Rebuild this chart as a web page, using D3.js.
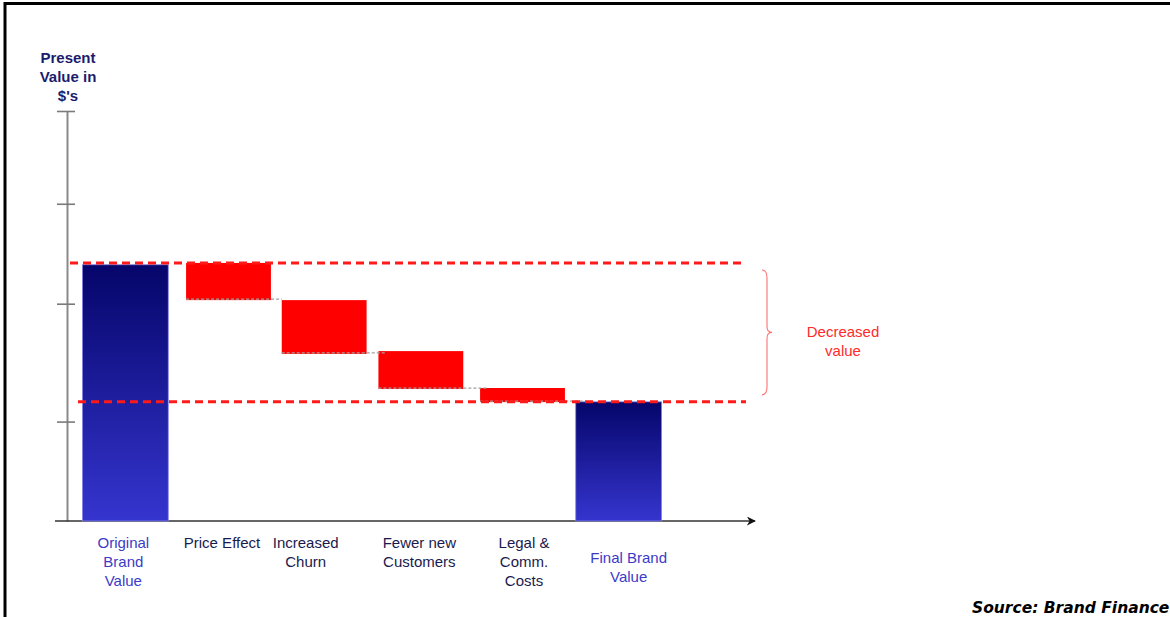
<!DOCTYPE html>
<html>
<head>
<meta charset="utf-8">
<script src="https://cdn.jsdelivr.net/npm/d3@7"></script>
<style>
  body { margin: 0; background: #fff; }
  svg { display: block; font-family: Arial, "Liberation Sans", sans-serif; }
</style>
</head>
<body>
<div class="chart"></div>
<script>
// Data (value units: original brand value = 100)
const categories = ["Original Brand Value", "Price Effect", "Increased Churn",
                    "Fewer new Customers", "Legal & Comm. Costs", "Final Brand Value"];
const labelLines = [["Original", "Brand", "Value"], ["Price Effect"], ["Increased", "Churn"],
                    ["Fewer new", "Customers"], ["Legal &", "Comm.", "Costs"], ["Final Brand", "Value"]];
const originalValue = 100;
const finalValue = 46.5;
const stepFrom = [100.7, 86.2, 66.3, 51.9];   // top of each decrease
const stepTo = [86.2, 65.2, 51.5, 46.4];      // bottom of each decrease
const tickValues = [38.8, 84.8, 123.8, 160];
const yTitle = ["Present", "Value in", "$'s"];
const braceText = ["Decreased", "value"];
const sourceText = "Source: Brand Finance";

const width = 1170, height = 617;

const svg = d3.select(".chart").append("svg")
    .attr("width", width)
    .attr("height", height);

// frame
svg.append("path")
    .attr("d", "M5,617 V3.5 H1170")
    .attr("fill", "none")
    .attr("stroke", "#000")
    .attr("stroke-width", 3);

// gradient for the blue bars
const defs = svg.append("defs");
const grad = defs.append("linearGradient")
    .attr("id", "blueGrad")
    .attr("x1", 0).attr("y1", 0).attr("x2", 0).attr("y2", 1);
grad.append("stop").attr("offset", "0%").attr("stop-color", "#05056a");
grad.append("stop").attr("offset", "100%").attr("stop-color", "#3535cf");

defs.append("marker")
    .attr("id", "arrow")
    .attr("viewBox", "0 0 10 10")
    .attr("refX", 9).attr("refY", 5)
    .attr("markerWidth", 9).attr("markerHeight", 9)
    .attr("markerUnits", "userSpaceOnUse")
    .attr("orient", "auto")
    .append("path")
    .attr("d", "M0,0 L10,5 L0,10 L3,5 Z")
    .attr("fill", "#111");

// scales
const xScale = d3.scaleBand()
    .domain(categories)
    .range([76, 668])
    .paddingInner(0.13)
    .paddingOuter(0.065);

// small nudges so the bars sit where the drawing put them
const barShift = [0, 5, 2, 0, 3, 0];
const bx = (cat) => xScale(cat) + barShift[categories.indexOf(cat)];

const yScale = d3.scaleLinear()
    .domain([0, 160])
    .range([521, 111]);

// y axis
const yAxis = d3.axisLeft(yScale)
    .tickValues(tickValues)
    .tickSize(0)
    .tickFormat("");

const yAxisG = svg.append("g")
    .attr("transform", "translate(67,0)")
    .call(yAxis);
yAxisG.select(".domain")
    .attr("stroke", "#8a8a8a")
    .attr("stroke-width", 2);
yAxisG.selectAll(".tick").append("line")
    .attr("x1", -10).attr("x2", 8)
    .attr("stroke", "#7a7a7a")
    .attr("stroke-width", 1.6);

// x axis with arrow
svg.append("line")
    .attr("x1", 55).attr("x2", 755)
    .attr("y1", yScale(0)).attr("y2", yScale(0))
    .attr("stroke", "#333")
    .attr("stroke-width", 1.5)
    .attr("marker-end", "url(#arrow)");

// original and final bars
const totals = [
    { cat: categories[0], value: originalValue },
    { cat: categories[5], value: finalValue }
];
svg.selectAll(".total")
    .data(totals)
    .join("rect")
    .attr("class", "total")
    .attr("x", d => bx(d.cat))
    .attr("width", xScale.bandwidth())
    .attr("y", d => yScale(d.value))
    .attr("height", d => yScale(0) - yScale(d.value))
    .attr("fill", "url(#blueGrad)")
    .attr("stroke", "#8585e6")
    .attr("stroke-width", 0.8);

// decrease steps
const steps = stepFrom.map((f, i) => ({ cat: categories[i + 1], from: f, to: stepTo[i] }));
svg.selectAll(".step")
    .data(steps)
    .join("rect")
    .attr("class", "step")
    .attr("x", d => bx(d.cat))
    .attr("width", xScale.bandwidth() - 1)
    .attr("y", d => yScale(d.from))
    .attr("height", d => yScale(d.to) - yScale(d.from))
    .attr("fill", "#ff0000");

// grey connectors along bottom of each step to the next bar
svg.selectAll(".conn")
    .data(steps)
    .join("line")
    .attr("class", "conn")
    .attr("x1", d => bx(d.cat))
    .attr("x2", (d, i) => {
        const next = categories[i + 2];
        return i === 0 ? bx(next) : bx(next) + 7;
    })
    .attr("y1", d => yScale(d.to) - 1)
    .attr("y2", d => yScale(d.to) - 1)
    .attr("stroke", "#a0a0a0")
    .attr("stroke-width", 1.2)
    .attr("stroke-dasharray", "3,2");

// red dashed reference lines
svg.append("line")
    .attr("x1", 70).attr("x2", 746)
    .attr("y1", yScale(stepFrom[0])).attr("y2", yScale(stepFrom[0]))
    .attr("stroke", "#ff1a1a").attr("stroke-width", 3)
    .attr("stroke-dasharray", "8,5");
svg.append("line")
    .attr("x1", 78).attr("x2", 746)
    .attr("y1", yScale(finalValue)).attr("y2", yScale(finalValue))
    .attr("stroke", "#ff1a1a").attr("stroke-width", 3)
    .attr("stroke-dasharray", "8,5");

// brace
const bTop = yScale(stepFrom[0]) + 7, bBot = yScale(finalValue) - 7;
const bMid = (bTop + bBot) / 2;
const braceX = 762;
svg.append("path")
    .attr("d", `M${braceX},${bTop} Q${braceX + 5},${bTop} ${braceX + 5},${bTop + 8}
                L${braceX + 5},${bMid - 6} Q${braceX + 5},${bMid} ${braceX + 10},${bMid}
                Q${braceX + 5},${bMid} ${braceX + 5},${bMid + 6}
                L${braceX + 5},${bBot - 8} Q${braceX + 5},${bBot} ${braceX},${bBot}`)
    .attr("fill", "none")
    .attr("stroke", "#ff7070")
    .attr("stroke-width", 1.1);

svg.append("text")
    .attr("x", 843).attr("y", bMid + 5)
    .attr("text-anchor", "middle")
    .attr("fill", "#ff2a2a")
    .attr("font-size", 15)
    .selectAll("tspan")
    .data(braceText)
    .join("tspan")
    .attr("x", 843)
    .attr("dy", (d, i) => i === 0 ? 0 : 19)
    .text(d => d);

// y axis title
svg.append("text")
    .attr("text-anchor", "middle")
    .attr("fill", "#1c1c6e")
    .attr("font-size", 15)
    .attr("font-weight", "bold")
    .selectAll("tspan")
    .data(yTitle)
    .join("tspan")
    .attr("x", 68)
    .attr("y", (d, i) => 63 + i * 19)
    .text(d => d);

// category labels
const labelShift = [-2, -2, -17, -2, 4, 10];
const labelTop = [548, 548, 548, 548, 548, 563];
const labelColor = ["#3b3bc8", "#1a1a4e", "#1a1a4e", "#1a1a4e", "#1a1a4e", "#3b3bc8"];
svg.selectAll(".cat")
    .data(categories)
    .join("text")
    .attr("class", "cat")
    .attr("text-anchor", "middle")
    .attr("font-size", 15)
    .attr("fill", (d, i) => labelColor[i])
    .each(function(d, i) {
        const cx = xScale(d) + xScale.bandwidth() / 2 + labelShift[i];
        d3.select(this).selectAll("tspan")
            .data(labelLines[i])
            .join("tspan")
            .attr("x", cx)
            .attr("y", (t, j) => labelTop[i] + j * 19)
            .text(t => t);
    });

// source
svg.append("text")
    .attr("x", 972).attr("y", 613)
    .attr("font-family", "DejaVu Sans, Verdana, sans-serif")
    .attr("font-size", 15.5)
    .attr("font-weight", "bold")
    .attr("font-style", "italic")
    .attr("fill", "#000")
    .text(sourceText);
</script>
</body>
</html>
